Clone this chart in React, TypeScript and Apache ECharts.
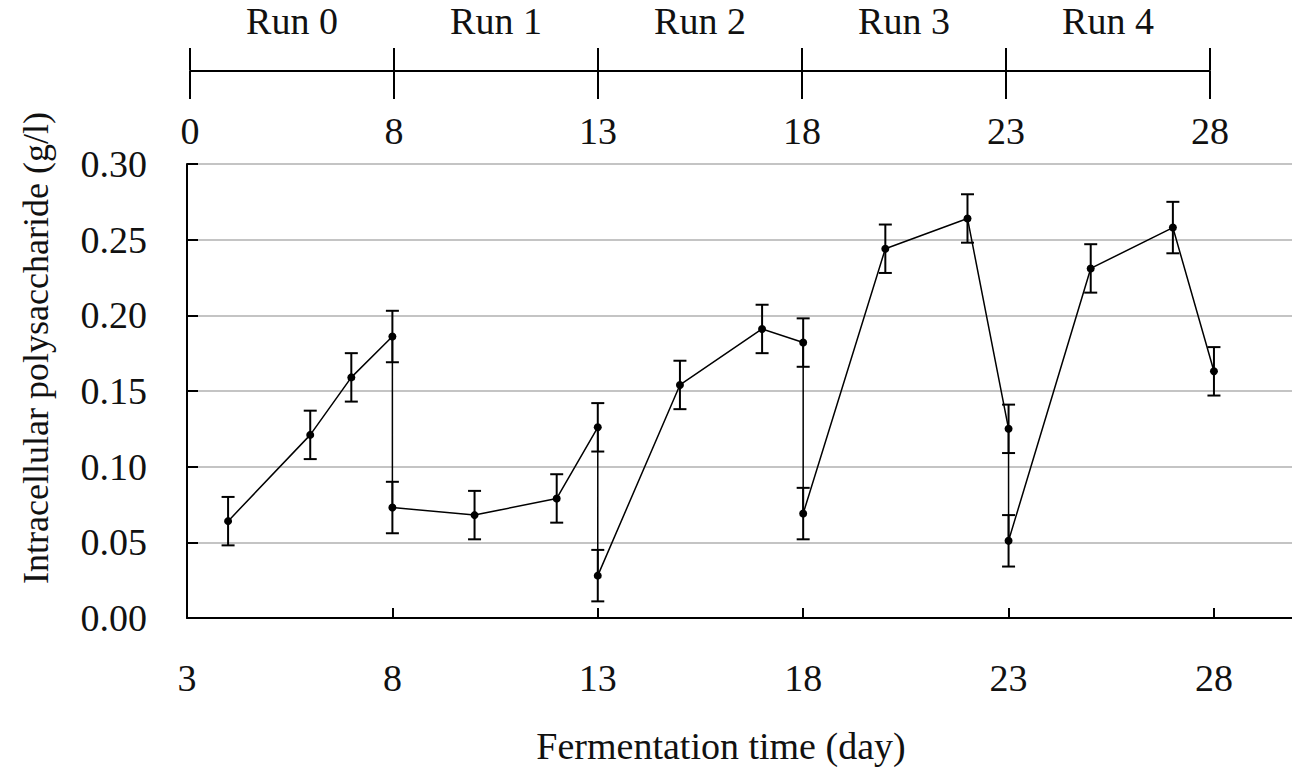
import React, { useEffect, useRef } from "react";
import * as echarts from "echarts";

// ---- data ----
const days = [4, 6, 7, 8, 8, 10, 12, 13, 13, 15, 17, 18, 18, 20, 22, 23, 23, 25, 27, 28];
const values = [0.064, 0.121, 0.159, 0.186, 0.073, 0.068, 0.079, 0.126, 0.028, 0.154, 0.191, 0.182, 0.069, 0.244, 0.264, 0.125, 0.051, 0.231, 0.258, 0.163];
const errors = [0.016, 0.016, 0.016, 0.017, 0.017, 0.016, 0.016, 0.016, 0.017, 0.016, 0.016, 0.016, 0.017, 0.016, 0.016, 0.016, 0.017, 0.016, 0.017, 0.016];
const xTickLabels = [3, 8, 13, 18, 23, 28];
const runBoundaryLabels = ["0", "8", "13", "18", "23", "28"];
const runLabels = ["Run 0", "Run 1", "Run 2", "Run 3", "Run 4"];
const xTitle = "Fermentation time (day)";
const yTitle = "Intracellular polysaccharide (g/l)";

const FONT = "'Liberation Serif', 'Times New Roman', serif";
const FS = 38;
const FS_Y = 36;
const TXT = "#111";

export default function App() {
  const ref = useRef<HTMLDivElement>(null);
  useEffect(() => {
    if (!ref.current) return;
    const chart = echarts.init(ref.current, null, { renderer: "svg" });
    const option: any = {
      animation: false,
      backgroundColor: "#fff",
      textStyle: { fontFamily: FONT },
      grid: [
        { left: 187, right: 0, top: 164, height: 454, containLabel: false },
        { left: 190, right: 82, top: 70, height: 1, containLabel: false },
      ],
      xAxis: [
        {
          type: "value",
          gridIndex: 0,
          min: 3,
          max: 29.9,
          interval: 5,
          axisLine: { show: true, lineStyle: { color: "#000", width: 2 } },
          axisTick: { show: true, inside: true, length: 10, lineStyle: { color: "#000", width: 2 }, customValues: [8, 13, 18, 23, 28] },
          axisLabel: { show: true, margin: 41, fontSize: FS, fontFamily: FONT, color: TXT, customValues: xTickLabels },
          splitLine: { show: false },
        },
        {
          type: "category",
          gridIndex: 1,
          position: "bottom",
          data: runBoundaryLabels,
          boundaryGap: false,
          axisLine: { show: true, lineStyle: { color: "#000", width: 2 } },
          axisTick: { show: true, inside: false, length: 28, interval: 0, lineStyle: { color: "#000", width: 2 } },
          axisLabel: { show: true, interval: 0, margin: 41, fontSize: FS, fontFamily: FONT, color: TXT },
          splitLine: { show: false },
        },
        {
          type: "category",
          gridIndex: 1,
          position: "top",
          data: runBoundaryLabels,
          boundaryGap: false,
          axisLine: { show: false },
          axisTick: { show: true, inside: false, length: 22, interval: 0, lineStyle: { color: "#000", width: 2 } },
          axisLabel: { show: false },
          splitLine: { show: false },
        },
        {
          type: "category",
          gridIndex: 1,
          position: "top",
          data: runLabels,
          boundaryGap: true,
          axisLine: { show: false },
          axisTick: { show: false },
          axisLabel: { show: true, interval: 0, margin: 30, fontSize: FS, fontFamily: FONT, color: TXT },
          splitLine: { show: false },
        },
      ],
      yAxis: [
        {
          type: "value",
          gridIndex: 0,
          min: 0,
          max: 0.3,
          interval: 0.05,
          axisLine: { show: true, lineStyle: { color: "#000", width: 2 } },
          axisTick: { show: true, inside: true, length: 11, lineStyle: { color: "#000", width: 2 } },
          axisLabel: {
            show: true,
            margin: 40,
            fontSize: FS,
            fontFamily: FONT,
            color: TXT,
            formatter: (v: number) => v.toFixed(2),
          },
          splitLine: { show: true, lineStyle: { color: "#c4c4c4", width: 2 } },
        },
        { type: "value", gridIndex: 1, show: false },
      ],
      graphic: [
        {
          type: "text",
          x: 721,
          y: 746,
          style: { text: xTitle, fontSize: FS, fontFamily: FONT, fill: TXT, textAlign: "center", textVerticalAlign: "middle" },
        },
        {
          type: "text",
          x: 36,
          y: 348,
          rotation: Math.PI / 2,
          style: { text: yTitle, fontSize: FS_Y, fontFamily: FONT, fill: TXT, textAlign: "center", textVerticalAlign: "middle" },
        },
      ],
      series: [
        {
          type: "custom",
          xAxisIndex: 0,
          yAxisIndex: 0,
          data: days.map((d, i) => [d, values[i], errors[i]]),
          encode: { x: 0, y: 1 },
          z: 2,
          renderItem: (params: any, api: any) => {
            const x = api.value(0);
            const y = api.value(1);
            const e = api.value(2);
            const hi = api.coord([x, y + e]);
            const lo = api.coord([x, y - e]);
            const h = 6.5;
            const st = { stroke: "#000", lineWidth: 2 };
            return {
              type: "group",
              children: [
                { type: "line", shape: { x1: hi[0], y1: hi[1], x2: lo[0], y2: lo[1] }, style: st },
                { type: "line", shape: { x1: hi[0] - h, y1: hi[1], x2: hi[0] + h, y2: hi[1] }, style: st },
                { type: "line", shape: { x1: lo[0] - h, y1: lo[1], x2: lo[0] + h, y2: lo[1] }, style: st },
              ],
            };
          },
        },
        {
          type: "line",
          xAxisIndex: 0,
          yAxisIndex: 0,
          data: days.map((d, i) => [d, values[i]]),
          symbol: "circle",
          symbolSize: 8,
          showSymbol: true,
          itemStyle: { color: "#000" },
          lineStyle: { color: "#000", width: 1.5 },
          z: 3,
        },
      ],
    };
    chart.setOption(option);
    return () => chart.dispose();
  }, []);
  return (
    <div
      ref={ref}
      style={{ position: "fixed", left: 0, top: 0, width: 1292, height: 770, background: "#fff" }}
    />
  );
}
